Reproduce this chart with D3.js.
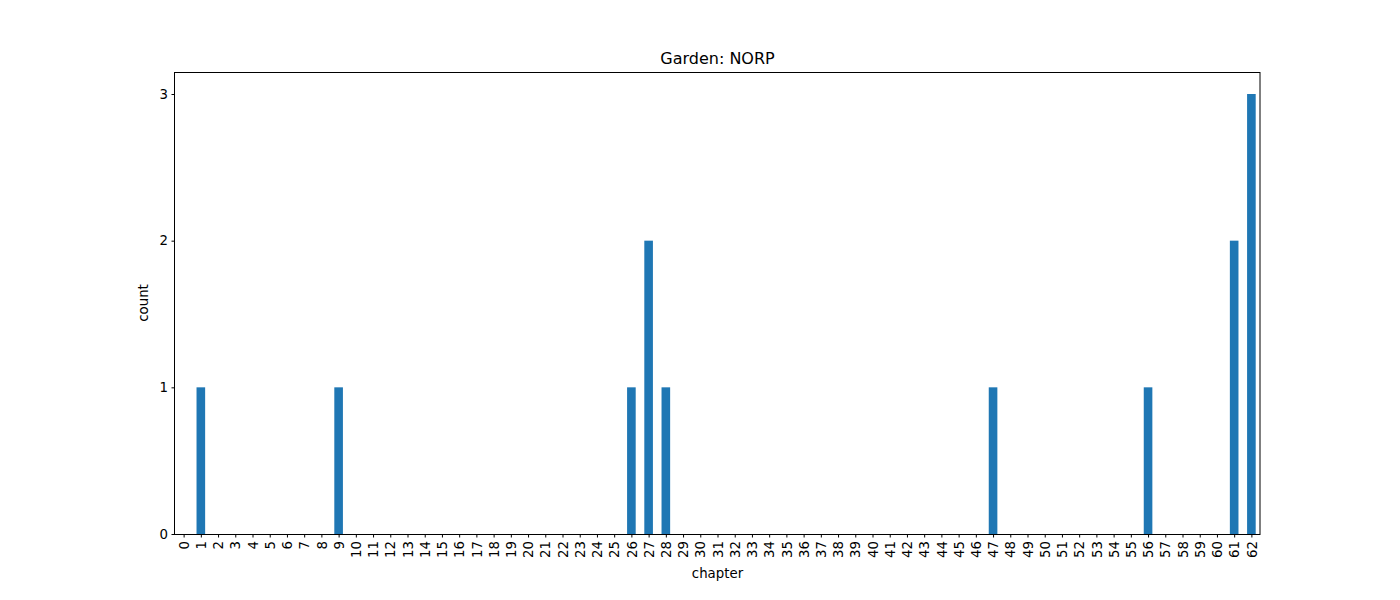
<!DOCTYPE html>
<html>
<head>
<meta charset="utf-8">
<script src="https://cdn.jsdelivr.net/npm/d3@7"></script>
<style>
	body { margin: 0; background: #fff; }
	text { font-family: "DejaVu Sans", sans-serif; fill: #000; }
</style>
</head>
<body>
<div id="chart"></div>
<script>
//chapters 0..62 and how often NORP shows up in each
let chapters = d3.range(0, 63);
let counts = [
	0, 1, 0, 0, 0, 0, 0, 0, 0, 1,
	0, 0, 0, 0, 0, 0, 0, 0, 0, 0,
	0, 0, 0, 0, 0, 0, 1, 2, 1, 0,
	0, 0, 0, 0, 0, 0, 0, 0, 0, 0,
	0, 0, 0, 0, 0, 0, 0, 1, 0, 0,
	0, 0, 0, 0, 0, 0, 1, 0, 0, 0,
	0, 2, 3
];
let yTicks = [0, 1, 2, 3];
let data = chapters.map((c, i) => ({ chapter: c, count: counts[i] }));

let totalW = 1400, totalH = 600;
let margin = { top: 72, right: 140, bottom: 66, left: 175 };
let width = totalW - margin.left - margin.right;
let height = totalH - margin.top - margin.bottom;

let svg = d3.select("#chart").append("svg")
	.attr("width", totalW)
	.attr("height", totalH);

let g = svg.append("g")
	.attr("transform", `translate(${margin.left}, ${margin.top})`);

//pandas style: bars of width 0.5 on a -0.5..n-0.5 axis
let x = d3.scaleLinear()
	.domain([-0.5, chapters.length - 0.5])
	.range([0, width]);
let y = d3.scaleLinear()
	.domain([0, d3.max(counts) * 1.05])
	.range([height, 0]);

g.selectAll("rect.bar")
	.data(data)
	.enter()
	.append("rect")
	.attr("class", "bar")
	.attr("x", d => x(d.chapter - 0.25))
	.attr("width", x(0.25) - x(-0.25))
	.attr("y", d => y(d.count))
	.attr("height", d => y(0) - y(d.count))
	.attr("fill", "#1f77b4");

//x axis
let xAxis = g.append("g")
	.attr("transform", `translate(0, ${height})`)
	.call(d3.axisBottom(x).tickValues(chapters).tickFormat(d3.format("d")).tickSizeOuter(0).tickSize(3.5).tickPadding(3.5));
xAxis.selectAll("text")
	.attr("transform", "rotate(-90)")
	.attr("text-anchor", "end")
	.attr("x", -7)
	.attr("y", 0)
	.attr("dy", "0.35em")
	.style("font-size", "13.33px");

//y axis
let yAxis = g.append("g")
	.call(d3.axisLeft(y).tickValues(yTicks).tickFormat(d3.format("d")).tickSizeOuter(0).tickSize(3.5).tickPadding(3.5));
yAxis.selectAll("text").style("font-size", "13.33px");

[xAxis, yAxis].forEach(a => {
	a.select(".domain").remove();
	a.selectAll("line").attr("stroke", "#000").attr("stroke-width", 1);
	a.attr("font-family", null);
});

//frame, pixel aligned so it stays crisp
g.append("rect")
	.attr("x", -0.5)
	.attr("y", 0.5)
	.attr("width", width + 0.5)
	.attr("height", height)
	.attr("fill", "none")
	.attr("stroke", "#000")
	.attr("stroke-width", 1);

//labels
svg.append("text")
	.attr("x", margin.left + width / 2)
	.attr("y", margin.top - 8)
	.attr("text-anchor", "middle")
	.style("font-size", "16px")
	.text("Garden: NORP");

svg.append("text")
	.attr("x", margin.left + width / 2)
	.attr("y", 578)
	.attr("text-anchor", "middle")
	.style("font-size", "13.33px")
	.text("chapter");

svg.append("text")
	.attr("transform", `translate(148, ${margin.top + height / 2}) rotate(-90)`)
	.attr("text-anchor", "middle")
	.style("font-size", "13.33px")
	.text("count");
</script>
</body>
</html>
